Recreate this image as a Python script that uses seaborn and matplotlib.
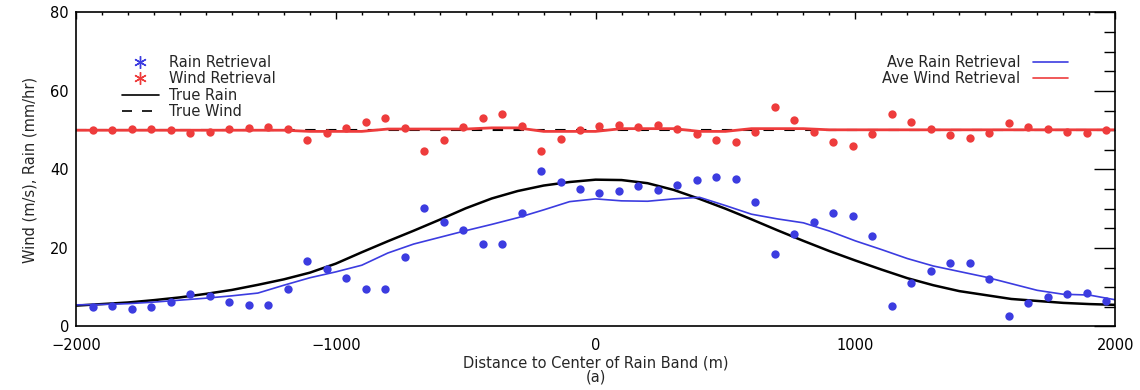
import matplotlib
matplotlib.use("Agg")
import matplotlib.pyplot as plt
from matplotlib.lines import Line2D
from matplotlib.ticker import MultipleLocator
import seaborn as sns

# Retrieved points (every 75 m across the band)
pt_x = [-1935, -1860, -1785, -1710, -1635, -1560, -1485, -1410, -1335, -1260,
        -1185, -1110, -1035, -960, -885, -810, -735, -660, -585, -510,
        -435, -360, -285, -210, -135, -60, 15, 90, 165, 240,
        315, 390, 465, 540, 615, 690, 765, 840, 915, 990,
        1065, 1140, 1215, 1290, 1365, 1440, 1515, 1590, 1665, 1740,
        1815, 1890, 1965]
rain_ret = [5.0, 5.3, 4.4, 5.0, 6.3, 8.3, 7.8, 6.2, 5.5, 5.5,
            9.6, 16.7, 14.7, 12.4, 9.6, 9.6, 17.7, 30.1, 26.7, 24.6,
            20.9, 21.1, 28.8, 39.6, 36.8, 35.0, 34.1, 34.5, 35.8, 34.8,
            36.0, 37.3, 38.1, 37.5, 31.6, 18.4, 23.5, 26.7, 28.9, 28.2,
            23.0, 5.2, 11.0, 14.2, 16.1, 16.1, 12.1, 2.7, 6.0, 7.6,
            8.3, 8.4, 6.6]
wind_ret = [50.0, 50.0, 50.3, 50.3, 50.0, 49.3, 49.5, 50.3, 50.6, 50.8,
            50.3, 47.6, 49.2, 50.5, 52.1, 53.0, 50.6, 44.7, 47.5, 50.8,
            53.0, 54.2, 51.2, 44.7, 47.8, 50.0, 51.2, 51.4, 50.8, 51.4,
            50.3, 49.0, 47.5, 46.9, 49.6, 55.9, 52.7, 49.6, 47.1, 46.1,
            49.0, 54.2, 52.0, 50.3, 48.7, 48.0, 49.3, 51.8, 50.8, 50.2,
            49.6, 49.3, 50.0]

# Curves (every 100 m)
line_x = [-2000, -1900, -1800, -1700, -1600, -1500, -1400, -1300, -1200, -1100,
          -1000, -900, -800, -700, -600, -500, -400, -300, -200, -100,
          0, 100, 200, 300, 400, 500, 600, 700, 800, 900,
          1000, 1100, 1200, 1300, 1400, 1500, 1600, 1700, 1800, 1900, 2000]
true_rain = [5.3, 5.7, 6.1, 6.7, 7.4, 8.3, 9.3, 10.6, 12.0, 13.7,
             16.0, 18.9, 21.7, 24.4, 27.2, 30.1, 32.6, 34.5, 35.9, 36.8,
             37.4, 37.3, 36.5, 34.8, 32.5, 30.0, 27.3, 24.5, 21.8, 19.2,
             16.8, 14.5, 12.3, 10.5, 9.0, 8.0, 7.0, 6.5, 6.0, 5.7, 5.5]
ave_rain = [5.5, 5.6, 5.8, 6.2, 6.7, 7.2, 7.8, 8.5, 10.5, 12.4,
            13.9, 15.6, 18.7, 21.0, 22.7, 24.4, 26.0, 27.7, 29.7, 31.8,
            32.5, 32.0, 31.9, 32.5, 32.9, 30.8, 28.6, 27.4, 26.4, 24.3,
            21.8, 19.6, 17.3, 15.4, 14.0, 12.6, 10.9, 9.2, 8.2, 8.0, 6.8]
true_wind = [50.0] * len(line_x)
ave_wind = [50.0, 50.0, 50.0, 50.0, 50.0, 50.0, 50.0, 50.0, 50.0, 49.7,
            49.7, 49.7, 50.3, 50.3, 50.3, 50.3, 50.6, 50.6, 49.7, 49.7,
            49.7, 50.4, 50.4, 50.4, 49.7, 49.7, 50.4, 50.4, 50.4, 50.1,
            50.1, 50.1, 50.1, 50.1, 50.1, 50.1, 50.1, 50.1, 50.1, 50.1, 50.1]

blue = "#3c3ce0"
red = "#ee3c3c"

sns.set_style("white")
plt.rcParams['font.family'] = ['DejaVu Sans']
plt.rcParams['font.size'] = 10.5

fig = plt.figure(figsize=(11.4, 3.9), dpi=100)
ax = fig.add_axes([0.0667, 0.163, 0.9115, 0.805])

sns.lineplot(x=line_x, y=true_wind, color="black", lw=1.5, dashes=False,
             linestyle=(0, (5, 5)), ax=ax)
sns.lineplot(x=line_x, y=ave_wind, color=red, lw=2.0, ax=ax)
sns.lineplot(x=line_x, y=true_rain, color="black", lw=1.8, ax=ax)
sns.lineplot(x=line_x, y=ave_rain, color=blue, lw=1.2, ax=ax)
sns.scatterplot(x=pt_x, y=wind_ret, color=red, marker="o", s=36,
                linewidth=0, ax=ax, zorder=3)
sns.scatterplot(x=pt_x, y=rain_ret, color=blue, marker="o", s=36,
                linewidth=0, ax=ax, zorder=3)

ax.set_xlim(-2000, 2000)
ax.set_ylim(0, 80)
ax.xaxis.set_major_locator(MultipleLocator(1000))
ax.xaxis.set_minor_locator(MultipleLocator(100))
ax.yaxis.set_major_locator(MultipleLocator(20))
ax.yaxis.set_minor_locator(MultipleLocator(5))
ax.tick_params(which="both", direction="in", top=True, right=True,
               colors="black", labelsize=10.5)
ax.tick_params(axis="y", which="major", length=15, width=1, pad=5)
ax.tick_params(axis="y", which="minor", length=8, width=1)
ax.tick_params(axis="x", which="major", length=5, width=1, pad=8)
ax.tick_params(axis="x", which="minor", length=2.5, width=1)
for sp in ax.spines.values():
    sp.set_linewidth(1.2)
    sp.set_color("black")

ax.set_xlabel("Distance to Center of Rain Band (m)\n(a)", linespacing=0.95,
              labelpad=2)
ax.set_ylabel("Wind (m/s), Rain (mm/hr)", labelpad=9)

# left legend
h1 = [Line2D([], [], ls="none", marker=(6, 2, 0), ms=9, mec=blue, color=blue),
      Line2D([], [], ls="none", marker=(6, 2, 0), ms=9, mec=red, color=red),
      Line2D([], [], color="black", lw=1.2),
      Line2D([], [], color="black", lw=1.2, linestyle=(0, (6, 6)))]
leg1 = ax.legend(h1, ["Rain Retrieval", "Wind Retrieval", "True Rain", "True Wind"],
                 loc="upper left", bbox_to_anchor=(0.0443, 0.865),
                 frameon=False, borderpad=0, borderaxespad=0,
                 handlelength=2.5, handletextpad=0.7, labelspacing=0.1,
                 fontsize=10.5)
ax.add_artist(leg1)

# right legend
h2 = [Line2D([], [], color=blue, lw=1.2), Line2D([], [], color=red, lw=1.2)]
ax.legend(h2, ["Ave Rain Retrieval", "Ave Wind Retrieval"],
          loc="upper right", bbox_to_anchor=(0.955, 0.865), markerfirst=False,
          frameon=False, borderpad=0, borderaxespad=0,
          handlelength=2.4, handletextpad=0.9, labelspacing=0.1, fontsize=10.5)

fig.savefig("out.png", dpi=100)
